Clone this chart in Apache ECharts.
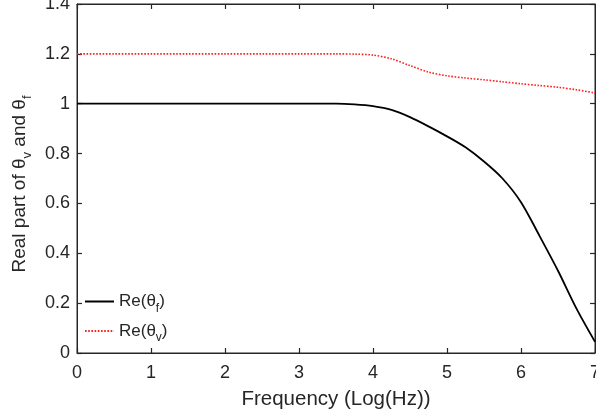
<!DOCTYPE html>
<html>
<head>
<meta charset="utf-8">
<script src="https://cdn.jsdelivr.net/npm/echarts@6/dist/echarts.min.js"></script>
<style>html,body{margin:0;padding:0;background:#fff}#c{width:596px;height:420px}</style>
</head>
<body>
<div id="c"></div>
<script>
const freq = [0, 0.5, 1, 1.5, 2, 2.5, 3, 3.5, 3.75, 4, 4.25, 4.5, 4.75, 5, 5.25, 5.5, 5.75, 6, 6.25, 6.5, 6.75, 7];
const reThetaF = [1, 1, 1, 1, 1, 1, 1, 1.0, 0.997, 0.99, 0.975, 0.946, 0.909, 0.869, 0.825, 0.768, 0.70, 0.605, 0.47, 0.33, 0.178, 0.045];
const reThetaV = [1.2, 1.2, 1.2, 1.2, 1.2, 1.2, 1.2, 1.2, 1.199, 1.195, 1.18, 1.153, 1.127, 1.112, 1.103, 1.096, 1.088, 1.08, 1.073, 1.066, 1.056, 1.043];

const FONT = '"Liberation Sans", Arial, sans-serif';
const TXT = '#262626';
const chart = echarts.init(document.getElementById('c'), null, {renderer: 'canvas'});
const pair = a => freq.map((x, i) => [x, a[i]]);
const subRich = (fs, pad) => ({
  sub: {fontSize: fs, fontFamily: FONT, color: TXT, verticalAlign: 'bottom', padding: [pad, 0, 0, 0]}
});
const axisCommon = {
  show: true,
  axisLine: {show: true, onZero: false, lineStyle: {color: TXT, width: 1}},
  axisTick: {show: true, inside: true, length: 5, lineStyle: {color: TXT, width: 1.2}},
  splitLine: {show: false}
};
chart.setOption({
  animation: false,
  backgroundColor: '#fff',
  grid: {left: 77, right: 1, top: 4, bottom: 67, containLabel: false, outerBoundsMode: 'none',
    show: true, borderColor: TXT, borderWidth: 1, backgroundColor: 'transparent'},
  legend: {
    orient: 'vertical', left: 84, top: 293, padding: 0,
    itemWidth: 29, itemHeight: 14, itemGap: 8,
    itemStyle: {opacity: 0},
    textStyle: {fontFamily: FONT, fontSize: 17, color: TXT, rich: subRich(12, 14)},
    formatter: n => n === 'f' ? 'Re(θ{sub|f})' : 'Re(θ{sub|v})',
    data: ['f', 'v']
  },
  xAxis: [{
    type: 'value', position: 'bottom', min: 0, max: 7, interval: 1, ...axisCommon,
    axisLabel: {fontFamily: FONT, fontSize: 18, color: TXT, margin: 11},
    name: 'Frequency (Log(Hz))', nameLocation: 'middle', nameGap: 36,
    nameTextStyle: {fontFamily: FONT, fontSize: 20.5, color: TXT}
  }, {
    type: 'value', position: 'top', min: 0, max: 7, interval: 1, ...axisCommon,
    axisLabel: {show: false}
  }],
  yAxis: [{
    type: 'value', position: 'left', min: 0, max: 1.4, interval: 0.2, ...axisCommon,
    axisLabel: {fontFamily: FONT, fontSize: 18, color: TXT, margin: 7},
    name: 'Real part of θ{sub|v} and θ{sub|f}', nameLocation: 'middle', nameGap: 42,
    nameTextStyle: {fontFamily: FONT, fontSize: 19, color: TXT, rich: subRich(13, 15), padding: [0, 11, 0, 0]}
  }, {
    type: 'value', position: 'right', min: 0, max: 1.4, interval: 0.2, ...axisCommon,
    axisLabel: {show: false}
  }],
  series: [{
    name: 'f', type: 'line', data: pair(reThetaF), smooth: 0.3, symbol: 'none',
    lineStyle: {color: '#000', width: 1.8}, itemStyle: {color: '#000'}
  }, {
    name: 'v', type: 'line', data: pair(reThetaV), smooth: 0.3, symbol: 'none',
    lineStyle: {color: '#ff1f1f', width: 1.6, type: [1.6, 1.6]}, itemStyle: {color: '#ff1f1f'}
  }, {
    name: 'mirror', type: 'line', xAxisIndex: 1, yAxisIndex: 1, data: pair(reThetaF),
    symbol: 'none', silent: true, lineStyle: {opacity: 0}, itemStyle: {opacity: 0}
  }]
});
</script>
</body>
</html>
